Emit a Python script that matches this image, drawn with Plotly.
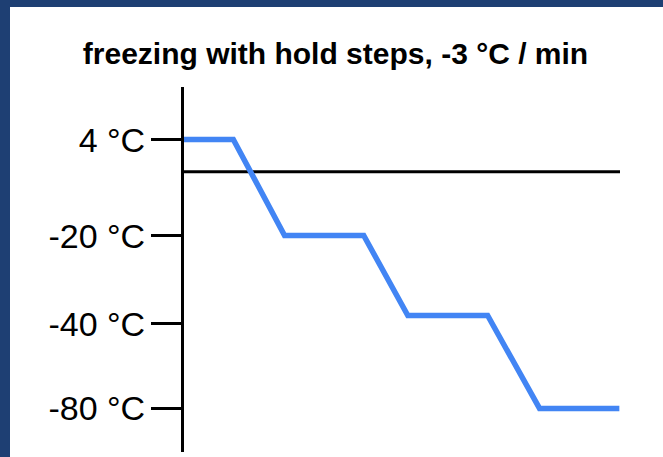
import plotly.graph_objects as go

# ---- data (schematic freezing profile) ----
time_min = [0, 7.6, 15.5, 27.7, 34.5, 46.8, 54.8, 67.1]          # minutes (schematic)
temp_c = [4, 4, -20, -20, -40, -40, -80, -80]                      # °C
tick_temps = [4, -20, -40, -80]
tick_labels = ["4 °C", "-20 °C", "-40 °C", "-80 °C"]
title_text = "freezing with hold steps, -3 °C / min"


def axis_scale(t):
    """Broken (compressed) axis below -40 °C, as in the schematic."""
    return t if t >= -40 else -40 + (t + 40) * 0.58


y_plot = [axis_scale(t) for t in temp_c]
tick_pos = [3.9, -20.1, -42.1, axis_scale(-80)]

W, H = 663, 457
L, R, T, B = 184, 43, 87, 5
pw, ph = W - L - R, H - T - B

fig = go.Figure()
fig.add_trace(go.Scatter(
    x=time_min, y=y_plot, mode="lines",
    line=dict(color="#4285f4", width=5.5),
    hoverinfo="skip", showlegend=False,
))

FONT = "Arial, 'Liberation Sans', Helvetica, sans-serif"

shapes = [
    # white panel on dark-blue frame
    dict(type="rect", xref="paper", yref="paper",
         x0=(10 - L) / pw, x1=(W + 20 - L) / pw,
         y0=(T + ph - (H + 20)) / ph, y1=(T + ph - 7) / ph,
         fillcolor="white", line=dict(width=0), layer="below"),
    # horizontal reference line
    dict(type="line", xref="paper", yref="y", x0=0, x1=1, y0=-4.1, y1=-4.1,
         line=dict(color="black", width=3), layer="below"),
]

fig.update_layout(
    width=W, height=H,
    margin=dict(l=L, r=R, t=T, b=B),
    paper_bgcolor="#1e3f73",
    plot_bgcolor="rgba(0,0,0,0)",
    shapes=shapes,
    title=dict(text="<b>" + title_text + "</b>", x=0.506, xanchor="center",
               y=1 - 53 / H, yanchor="middle", yref="container",
               font=dict(family=FONT, size=30, color="black")),
    xaxis=dict(range=[0, 67.2], visible=False, fixedrange=True),
    yaxis=dict(range=[-74.1, 17.1], showgrid=False, zeroline=False,
               showline=True, linecolor="black", linewidth=3,
               ticks="outside", ticklen=30, tickwidth=3, tickcolor="black",
               tickvals=tick_pos, ticktext=tick_labels,
               tickfont=dict(family=FONT, size=34, color="black"),
               ticklabelstandoff=-1,
               fixedrange=True),
    font=dict(family=FONT),
)

fig.write_html("out.html",
               config={"displayModeBar": False, "staticPlot": True},
               post_script="document.body.style.margin='0';document.body.style.overflow='hidden';")
